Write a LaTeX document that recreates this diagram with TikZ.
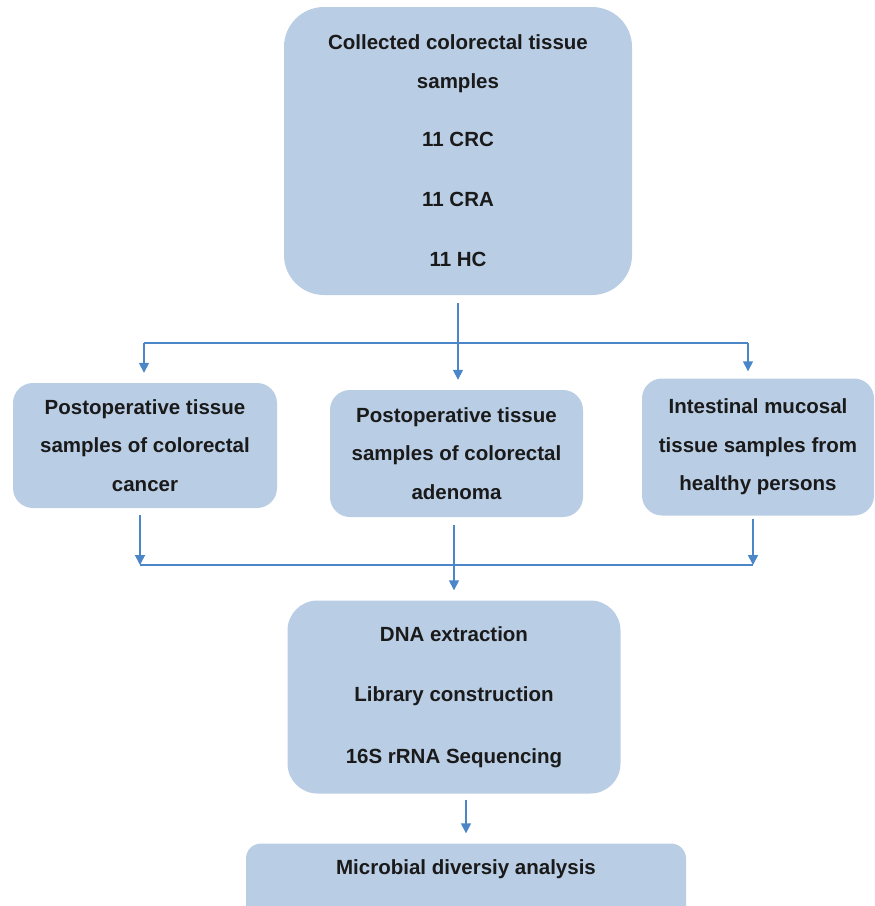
\documentclass[tikz,border=0pt]{standalone}
\usepackage{fontspec}
\setmainfont{Liberation Sans}
\usetikzlibrary{arrows.meta}
\definecolor{boxfill}{HTML}{B9CDE5}
\definecolor{linecol}{HTML}{4A86C8}
\definecolor{txtcol}{HTML}{1A1A1A}
\tikzset{
  box/.style={fill=boxfill, draw=none, inner sep=0pt, align=center, text=txtcol,
    font=\fontsize{20.5}{38.5}\selectfont\bfseries},
  conn/.style={draw=linecol, line width=1.6pt},
  arr/.style={conn, -{Triangle[width=10pt,length=10pt]}},
}
\begin{document}
\begin{tikzpicture}[x=1pt,y=-1pt]
\useasboundingbox (0,0) rectangle (875,906);
\node[box, rounded corners=40pt, minimum width=348pt, minimum height=288pt] (top) at (458,151)
  {Collected colorectal tissue\\samples\\[20pt]11 CRC\\[21.5pt]11 CRA\\[21.5pt]11 HC};
\node[box, rounded corners=20pt, minimum width=264pt, minimum height=125pt] (left) at (145,445.5)
  {Postoperative tissue\\samples of colorectal\\cancer};
\node[box, rounded corners=20pt, minimum width=253pt, minimum height=127pt] (mid) at (456.5,453.5)
  {Postoperative tissue\\samples of colorectal\\adenoma};
\node[box, rounded corners=20pt, minimum width=232pt, minimum height=137pt] (right) at (758,447)
  {Intestinal mucosal\\tissue samples from\\healthy persons};
\node[box, rounded corners=30pt, minimum width=333pt, minimum height=193pt] (bot) at (454,697)
  {DNA extraction\\[22pt]Library construction\\[23pt]16S rRNA Sequencing};
\node[box, rounded corners=15pt, minimum width=440pt, anchor=base, text height=15pt, text depth=70pt, inner ysep=16pt] (fin) at (466,874.5)
  {Microbial diversiy analysis};
% top split
\coordinate (ja) at (144,343);
\coordinate (jc) at (748,343);
\draw[conn] (ja) -- (jc);
\draw[arr, shorten <=8pt, shorten >=10pt] (top.south) -- (top.south |- mid.north);
\draw[arr, shorten >=10pt] (ja) -- (ja |- left.north);
\draw[arr, shorten >=7pt] (jc) -- (jc |- right.north);
% merge
\coordinate (lb) at (140,565);
\coordinate (rb) at (753,565);
\draw[conn] (lb) -- (rb);
\draw[arr, shorten <=7pt] (left.south -| lb) -- (lb);
\draw[arr, shorten <=3pt] (right.south -| rb) -- (rb);
\draw[arr, shorten <=8pt, shorten >=10pt] (mid.south -| bot.north) -- (bot.north);
\draw[arr, shorten <=6pt, shorten >=10pt] (fin.north |- bot.south) -- (fin.north);
\end{tikzpicture}
\end{document}
